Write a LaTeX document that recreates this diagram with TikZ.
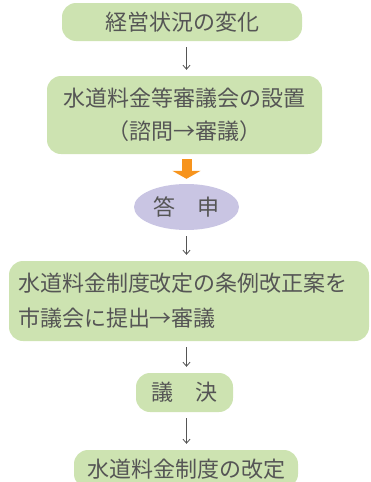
\documentclass[tikz,border=0pt]{standalone}
\usepackage{fontspec}
\setmainfont{Noto Sans CJK JP}
\usetikzlibrary{shapes.geometric,arrows.meta,calc}
\definecolor{boxgreen}{HTML}{CDE3B1}
\definecolor{lav}{HTML}{C9C5E3}
\definecolor{orng}{HTML}{F7941D}
\definecolor{txt}{HTML}{555555}
\begin{document}
\begin{tikzpicture}[x=1pt,y=-1pt,
  gbox/.style={fill=boxgreen, rounded corners=14pt, inner sep=0pt, text=txt,
    font=\fontsize{22pt}{33pt}\selectfont},
  thinarrow/.style={draw=txt, line width=0.8pt, -{Straight Barb[length=4pt,width=7pt]}, shorten <=6pt, shorten >=6pt},
  bigarrow/.style={draw=orng, line width=10pt, -{Triangle[length=8pt,width=28pt]}, shorten <=5pt, shorten >=5pt}]
\useasboundingbox (0,0) rectangle (371,482);
\begin{scope}
\clip (0,0) rectangle (371,482);
\node[gbox, minimum width=240pt, minimum height=38pt] (b1) at (182,22) {経営状況の変化};
\node[gbox, minimum width=275pt, minimum height=78pt, align=center] (b2) at (184.5,115) {水道料金等審議会の設置\\（諮問→審議）};
\node[ellipse, fill=lav, minimum width=105pt, minimum height=46pt, inner sep=0pt, text=txt, font=\fontsize{22pt}{24pt}\selectfont] (e) at (186.5,207) {答　申};
\node[gbox, minimum width=360pt, minimum height=80pt, text width=342pt, align=left, font=\fontsize{22pt}{35pt}\selectfont] (b3) at (189,301) {水道料金制度改定の条例改正案を\\市議会に提出→審議};
\node[gbox, minimum width=97pt, minimum height=39pt] (b4) at (184.5,392.5) {議　決};
\node[gbox, minimum width=224pt, minimum height=38pt] (b5) at (186,469) {水道料金制度の改定};
\coordinate (a1) at (186.5,0);
\draw[bigarrow] (b2.south -| a1) -- (e.north -| a1);
\draw[thinarrow] (b1.south -| a1) -- (b2.north -| a1);
\draw[thinarrow] (e.south -| a1) -- (b3.north -| a1);
\draw[thinarrow] (b3.south -| a1) -- (b4.north -| a1);
\draw[thinarrow] (b4.south -| a1) -- (b5.north -| a1);
\end{scope}
\end{tikzpicture}
\end{document}
